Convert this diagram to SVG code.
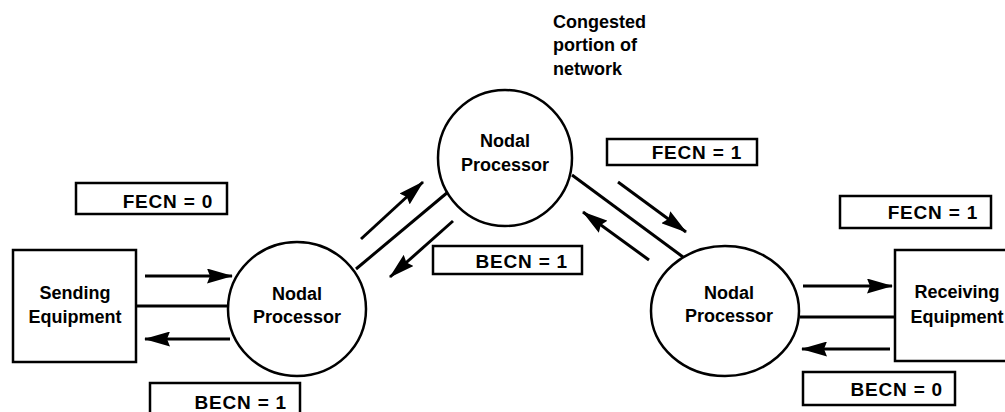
<svg xmlns="http://www.w3.org/2000/svg" width="1005" height="412" viewBox="0 0 1005 412">
  <style>
    .shape { fill: #fff; stroke: #000; stroke-width: 2.5; }
    .lbl { fill: #fff; stroke: #000; stroke-width: 2.5; }
    .t { font-family: "Liberation Sans", Arial, sans-serif; font-weight: bold; font-size: 18px; fill: #000; }
    .tl { font-family: "Liberation Sans", Arial, sans-serif; font-weight: bold; font-size: 19px; letter-spacing: 0.8px; fill: #000; text-anchor: end; }
    .c { text-anchor: middle; }
    .ln { stroke: #000; stroke-width: 3; fill: none; }
    .ar { stroke: #000; stroke-width: 3; fill: none; marker-end: url(#ah); }
  </style>
  <defs>
    <marker id="ah" viewBox="0 0 26 15" refX="25" refY="7.5" markerWidth="26" markerHeight="15" markerUnits="userSpaceOnUse" orient="auto">
      <path d="M0,0 L26,7.5 L0,15 L3,7.5 z" fill="#000"/>
    </marker>
  </defs>
  <rect width="1005" height="412" fill="#fff"/>

  <g id="connectors">
    <!-- sending <-> left node -->
    <line class="ar" x1="145" y1="276" x2="232" y2="276"/>
    <line class="ln" x1="136" y1="306" x2="228" y2="306"/>
    <line class="ar" x1="230" y1="339" x2="145" y2="339"/>
    <!-- left node <-> top node -->
    <line class="ar" x1="361" y1="239" x2="423" y2="182"/>
    <line class="ln" x1="356" y1="269" x2="448" y2="192"/>
    <line class="ar" x1="453" y1="221" x2="390" y2="277"/>
    <!-- top node <-> right node -->
    <line class="ar" x1="618" y1="182" x2="686" y2="232"/>
    <line class="ln" x1="572" y1="175" x2="683" y2="257"/>
    <line class="ar" x1="649" y1="260" x2="583" y2="212"/>
    <!-- right node <-> receiving -->
    <line class="ar" x1="803" y1="286" x2="892" y2="286"/>
    <line class="ln" x1="800" y1="317" x2="895" y2="317"/>
    <line class="ar" x1="890" y1="349" x2="802" y2="349"/>
  </g>

  <g id="sending">
    <rect class="shape" x="13" y="250" width="123" height="112"/>
    <text class="t c" x="75" y="299">Sending</text>
    <text class="t c" x="75" y="323">Equipment</text>
  </g>

  <g id="receiving">
    <rect class="shape" x="895" y="250" width="130" height="111"/>
    <text class="t c" x="957" y="298">Receiving</text>
    <text class="t c" x="957" y="323">Equipment</text>
  </g>

  <g id="node-left">
    <ellipse class="shape" cx="297" cy="309" rx="69" ry="67"/>
    <text class="t c" x="297" y="300">Nodal</text>
    <text class="t c" x="297" y="323">Processor</text>
  </g>

  <g id="node-top">
    <ellipse class="shape" cx="505" cy="158" rx="67" ry="68"/>
    <text class="t c" x="505" y="147">Nodal</text>
    <text class="t c" x="505" y="171">Processor</text>
  </g>

  <g id="node-right">
    <ellipse class="shape" cx="725" cy="311" rx="74" ry="65"/>
    <text class="t c" x="729" y="299">Nodal</text>
    <text class="t c" x="729" y="322">Processor</text>
  </g>

  <g id="congested-note">
    <text class="t" x="553" y="28">Congested</text>
    <text class="t" x="553" y="51">portion of</text>
    <text class="t" x="553" y="75">network</text>
  </g>

  <g id="label-fecn0">
    <rect class="lbl" x="76" y="183" width="151" height="31"/>
    <text class="tl" x="213" y="208">FECN = 0</text>
  </g>
  <g id="label-becn1-left">
    <rect class="lbl" x="150" y="383" width="150" height="35"/>
    <text class="tl" x="287" y="409">BECN = 1</text>
  </g>
  <g id="label-becn1-mid">
    <rect class="lbl" x="433" y="246" width="149" height="28"/>
    <text class="tl" x="568" y="268">BECN = 1</text>
  </g>
  <g id="label-fecn1-top">
    <rect class="lbl" x="607" y="139" width="150" height="26"/>
    <text class="tl" x="742" y="159">FECN = 1</text>
  </g>
  <g id="label-fecn1-right">
    <rect class="lbl" x="840" y="196" width="151" height="32"/>
    <text class="tl" x="978" y="219">FECN = 1</text>
  </g>
  <g id="label-becn0">
    <rect class="lbl" x="803" y="372" width="152" height="33"/>
    <text class="tl" x="943" y="396">BECN = 0</text>
  </g>
</svg>
